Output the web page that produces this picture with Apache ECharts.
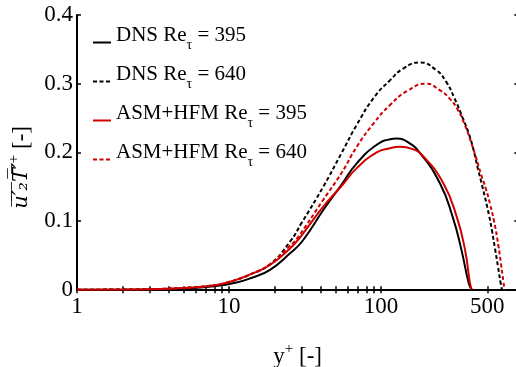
<!DOCTYPE html>
<html>
<head>
<meta charset="utf-8">
<script src="https://cdn.jsdelivr.net/npm/echarts@6/dist/echarts.min.js"></script>
<style>
html, body { margin: 0; padding: 0; background: #fff; }
#main { width: 516px; height: 367px; }
</style>
</head>
<body>
<div id="main"></div>
<script>
// values (y+ on a log axis, u2'T'+ on the value axis)
var dns395X = [1, 2, 3, 5, 8, 11, 14, 18.6, 25.2, 30.7, 41.7, 55, 69.2, 93.7, 114.6, 127, 150, 180.6, 244, 296, 338, 378, 395];
var dns395Y = [0, 0, 0.0003, 0.0015, 0.005, 0.010, 0.017, 0.029, 0.053, 0.072, 0.116, 0.153, 0.184, 0.211, 0.219, 0.220, 0.215, 0.199, 0.155, 0.106, 0.058, 0.009, 0];

var dns640X = [1, 2, 3, 5, 8.3, 11, 13.7, 18.6, 25.2, 30, 41.7, 55, 69.2, 90, 114.6, 140, 180, 230, 268, 304, 345, 381, 411, 432, 467, 514, 537, 562, 589, 613, 625];
var dns640Y = [0, 0.0003, 0.0008, 0.0025, 0.007, 0.014, 0.022, 0.037, 0.070, 0.097, 0.150, 0.199, 0.240, 0.280, 0.305, 0.322, 0.331, 0.320, 0.303, 0.279, 0.250, 0.225, 0.199, 0.178, 0.148, 0.108, 0.086, 0.060, 0.033, 0.009, 0];

var asm395X = [1, 2, 3, 5, 8.3, 11, 13.7, 18.6, 25.2, 29.3, 41.7, 55, 69.2, 93.7, 114.6, 133, 160, 190, 257, 315, 357, 385, 395];
var asm395Y = [0, 0.0003, 0.0008, 0.0025, 0.007, 0.014, 0.022, 0.036, 0.060, 0.076, 0.121, 0.151, 0.177, 0.200, 0.206, 0.208, 0.205, 0.194, 0.155, 0.106, 0.058, 0.009, 0];

var asm640X = [1, 2, 3, 5, 8.3, 11, 13.7, 18.6, 25.2, 27.9, 41.7, 55, 69.2, 90, 114.6, 150, 198, 242, 281, 320, 353, 391, 422, 455, 491, 521, 554, 591, 615, 638, 649];
var asm640Y = [0, 0.0003, 0.0008, 0.0025, 0.007, 0.014, 0.022, 0.037, 0.064, 0.074, 0.131, 0.170, 0.208, 0.243, 0.269, 0.290, 0.300, 0.291, 0.279, 0.262, 0.242, 0.215, 0.192, 0.168, 0.146, 0.125, 0.100, 0.065, 0.038, 0.012, 0];

var seriesNames = ['DNS 395', 'DNS 640', 'ASM+HFM 395', 'ASM+HFM 640'];
var legendLabels = [
    '{b|DNS Re}{sub|\u03c4}{b| = 395}',
    '{b|DNS Re}{sub|\u03c4}{b| = 640}',
    '{b|ASM+HFM Re}{sub|\u03c4}{b| = 395}',
    '{b|ASM+HFM Re}{sub|\u03c4}{b| = 640}'
];

var xLabelValues = [1, 10, 100, 500];
var xTickValues = [1, 2, 3, 4, 5, 6, 7, 8, 9, 10, 20, 30, 40, 50, 60, 70, 80, 90, 100, 500];

var FONT = 'Liberation Serif';
var RED = '#d00000';

function pairs(xs, ys) {
    var out = [];
    for (var i = 0; i < xs.length; i++) {
        out.push([xs[i], ys[i]]);
    }
    return out;
}

function curve(name, xs, ys, color, dashed) {
    return {
        name: name,
        type: 'line',
        xAxisIndex: 0,
        yAxisIndex: 0,
        data: pairs(xs, ys),
        smooth: 0.5,
        symbol: 'none',
        showSymbol: false,
        lineStyle: { color: color, width: 2, type: dashed ? [4, 2.5] : 'solid' },
        itemStyle: { color: color },
        z: 3
    };
}

var myChart = echarts.init(document.getElementById('main'));

var option = {
    animation: false,
    backgroundColor: '#fff',
    grid: {
        left: 77,
        right: -2.3,
        top: 15,
        bottom: 77.3,
        containLabel: false,
        outerBoundsMode: 'none'
    },
    legend: {
        orient: 'vertical',
        left: 92,
        top: 25,
        padding: 0,
        itemWidth: 18,
        itemHeight: 10,
        itemGap: 11.5,
        selectedMode: false,
        itemStyle: { opacity: 0 },
        data: seriesNames,
        formatter: function (name) {
            return legendLabels[seriesNames.indexOf(name)];
        },
        textStyle: {
            fontFamily: FONT,
            fontSize: 21,
            color: '#000',
            rich: {
                b: { fontFamily: FONT, fontSize: 21, color: '#000', lineHeight: 35, verticalAlign: 'top' },
                sub: { fontFamily: FONT, fontSize: 14, color: '#000', verticalAlign: 'top', padding: [13.5, 0, 0, 0] }
            }
        }
    },
    xAxis: [
        {
            type: 'log',
            logBase: 10,
            min: 1,
            max: 800,
            position: 'bottom',
            axisLine: { show: true, lineStyle: { color: '#000', width: 2 } },
            axisTick: { show: true, inside: true, length: 3.5, customValues: xTickValues, lineStyle: { color: '#000', width: 1.5 } },
            axisLabel: { customValues: xLabelValues, margin: 6, fontFamily: FONT, fontSize: 23, color: '#000' },
            splitLine: { show: false },
            name: '{b|y}{sup|+} [-]',
            nameLocation: 'middle',
            nameGap: 52,
            nameTextStyle: {
                fontFamily: FONT, fontSize: 23, color: '#000',
                rich: {
                    b: { fontFamily: FONT, fontSize: 23, color: '#000' },
                    sup: { fontFamily: FONT, fontSize: 15, color: '#000', verticalAlign: 'top', lineHeight: 30 }
                }
            }
        },
        {
            type: 'log',
            logBase: 10,
            min: 1,
            max: 800,
            position: 'top',
            axisLine: { show: true, lineStyle: { color: '#000', width: 2 } },
            axisTick: { show: true, inside: true, length: 3.5, customValues: xTickValues, lineStyle: { color: '#000', width: 1.5 } },
            axisLabel: { show: false },
            splitLine: { show: false }
        }
    ],
    yAxis: [
        {
            type: 'value',
            min: 0,
            max: 0.4,
            interval: 0.1,
            position: 'left',
            axisLine: { show: true, lineStyle: { color: '#000', width: 2 } },
            axisTick: { show: true, inside: true, length: 4, lineStyle: { color: '#000', width: 1.5 } },
            axisLabel: {
                margin: 4, fontFamily: FONT, fontSize: 23, color: '#000',
                formatter: function (v) { return v === 0 ? '0' : v.toFixed(1); }
            },
            splitLine: { show: false },
            name: '{ov|u\u0305\u2032\u0305\u2082\u0305T\u0305\u2032\u0305}{sup|+} [-]',
            nameLocation: 'middle',
            nameRotate: 90,
            nameGap: 33,
            nameTextStyle: {
                fontFamily: FONT, fontSize: 23, color: '#000',
                padding: [0, 30, 0, 0],
                rich: {
                    ov: { fontFamily: 'DejaVu Serif', fontStyle: 'italic', fontSize: 21, color: '#000' },
                    sup: { fontFamily: FONT, fontSize: 15, color: '#000', verticalAlign: 'top', lineHeight: 30 }
                }
            }
        },
        {
            type: 'value',
            min: 0,
            max: 0.4,
            interval: 0.1,
            position: 'right',
            axisLine: { show: true, lineStyle: { color: '#000', width: 2 } },
            axisTick: { show: true, inside: true, length: 4, lineStyle: { color: '#000', width: 1.5 } },
            axisLabel: { show: false },
            splitLine: { show: false }
        }
    ],
    series: [
        curve(seriesNames[0], dns395X, dns395Y, '#000', false),
        curve(seriesNames[1], dns640X, dns640Y, '#000', true),
        curve(seriesNames[2], asm395X, asm395Y, RED, false),
        curve(seriesNames[3], asm640X, asm640Y, RED, true)
    ]
};

myChart.setOption(option);
</script>
</body>
</html>
